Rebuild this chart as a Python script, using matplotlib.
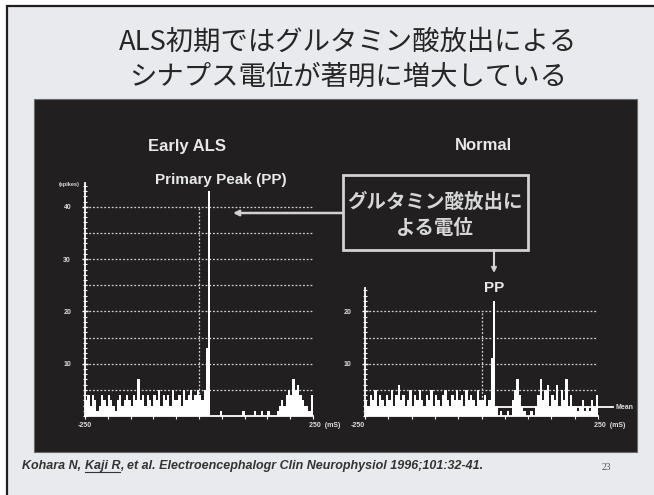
import matplotlib.pyplot as plt
import numpy as np
from matplotlib.patches import Rectangle
from matplotlib.ticker import MultipleLocator

plt.rcParams['font.family'] = ['Noto Sans CJK JP', 'DejaVu Sans']

# post-stimulus histograms, 5 ms bins from -250 to +250 ms
bin_starts = np.arange(-250, 250, 5)
als_counts = [
    3, 4, 2, 4, 3, 1, 2, 4, 3, 2,
    4, 3, 2, 1, 3, 4, 2, 3, 4, 3,
    2, 4, 3, 7, 3, 4, 2, 4, 3, 2,
    4, 3, 5, 2, 4, 3, 4, 2, 5, 3,
    3, 4, 2, 5, 3, 4, 5, 3, 4, 5,
    4, 3, 5, 13, 43, 0, 0, 0, 0, 1,
    0, 0, 0, 0, 0, 0, 0, 0, 0, 1,
    0, 0, 0, 0, 1, 0, 0, 1, 0, 0,
    1, 0, 0, 0, 1, 2, 3, 2, 4, 5,
    4, 7, 5, 6, 4, 3, 2, 2, 1, 4,
]
normal_counts = [
    3, 2, 4, 3, 5, 2, 4, 3, 2, 4,
    3, 5, 2, 4, 6, 3, 4, 2, 3, 5,
    2, 4, 3, 5, 3, 2, 4, 3, 5, 2,
    4, 3, 2, 4, 5, 3, 2, 4, 3, 5,
    3, 4, 2, 5, 3, 4, 3, 2, 5, 3,
    3, 4, 2, 3, 11, 22, 2, 0, 1, 0,
    0, 1, 0, 3, 5, 7, 4, 2, 1, 0,
    0, 1, 0, 2, 4, 7, 3, 5, 6, 2,
    4, 3, 6, 2, 5, 3, 7, 2, 4, 2,
    2, 1, 2, 3, 1, 2, 1, 3, 2, 4,
]
normal_mean = 1.7
als_grid = [5, 10, 15, 20, 25, 30, 35, 40]
normal_grid = [5, 10, 15, 20]

title_lines = ['ALS初期ではグルタミン酸放出による', 'シナプス電位が著明に増大している']
box_lines = ['グルタミン酸放出に', 'よる電位']

W, H = 654, 495
fig = plt.figure(figsize=(W / 100, H / 100), dpi=100)
fig.patch.set_facecolor('white')

# full-figure pixel canvas for the slide itself
bg = fig.add_axes([0, 0, 1, 1], zorder=0)
bg.set_xlim(0, W)
bg.set_ylim(H, 0)
bg.axis('off')

bg.add_patch(Rectangle((7, 6), 700, 600, facecolor='#e9eaee',
                       edgecolor='#1e1e1e', lw=1.6))
bg.add_patch(Rectangle((34, 99), 603, 353, facecolor='#221f20',
                       edgecolor='#6a6a6a', lw=0.8))

for i, line in enumerate(title_lines):
    bg.text(348, 42 + 35 * i, line, ha='center', va='center',
            fontsize=19.7, color='#262626')

txt = '#e8e8e8'
sans = ['Liberation Sans', 'DejaVu Sans']
bg.text(187, 146, 'Early ALS', ha='center', va='center', fontsize=12,
        fontweight='bold', color=txt, family=sans)
bg.text(483, 146, 'Normal', ha='center', va='center', fontsize=12,
        fontweight='bold', color=txt, family=sans)
bg.text(221, 180, 'Primary Peak (PP)', ha='center', va='center', fontsize=11,
        fontweight='bold', color=txt, family=sans)

PX_PER_SPIKE = 5.23
BASE_Y = 416


def histogram(x0, x1, counts, ytop, grid, major, left_label_align):
    ax = fig.add_axes([x0 / W, (H - BASE_Y) / H, (x1 - x0) / W,
                       ytop * PX_PER_SPIKE / H], zorder=1)
    ax.patch.set_alpha(0)
    ax.bar(bin_starts, counts, width=5, align='edge', color='white',
           linewidth=0, zorder=3)
    ax.set_xlim(-250, 250)
    ax.set_ylim(0, ytop)
    for g in grid:
        ax.axhline(g, color='#d0d0d0', lw=0.9, ls=(0, (1.5, 1.5)), zorder=1)
    ax.plot([0, 0], [0, grid[-1]], color='#d0d0d0', lw=0.9,
            ls=(0, (1.5, 1.5)), zorder=1)
    for side in ['top', 'right']:
        ax.spines[side].set_visible(False)
    for side in ['left', 'bottom']:
        ax.spines[side].set_color('white')
        ax.spines[side].set_linewidth(1.3)
    ax.yaxis.set_major_locator(MultipleLocator(major))
    ax.yaxis.set_minor_locator(MultipleLocator(1))
    ax.set_yticks([v for v in range(major, int(ytop), major)])
    ax.tick_params(axis='y', which='major', colors='white', labelsize=5,
                   length=4, width=1, direction='inout', pad=8,
                   labelcolor='#dddddd')
    ax.tick_params(axis='y', which='minor', colors='white', length=3,
                   width=0.8, direction='inout')
    ax.set_xticks(np.arange(-250, 251, 50))
    ax.set_xticklabels([])
    ax.tick_params(axis='x', colors='white', length=2, width=0.8,
                   direction='out')
    for lab in ax.get_yticklabels():
        lab.set_fontweight('bold')
        lab.set_family(sans)
    ax.text(-250, -1.2, '-250', ha=left_label_align, va='top', fontsize=5,
            color='#dddddd', fontweight='bold', family=sans)
    ax.text(242, -1.2, '250  (mS)', ha='left', va='top', fontsize=5,
            color='#dddddd', fontweight='bold', family=sans)
    return ax


ax_als = histogram(85, 313, als_counts, 44.5, als_grid, 10, 'center')
ax_als.text(-262, 44.3, '(spikes)', ha='right', va='center', fontsize=4,
            color='#dddddd', fontweight='bold', family=sans)

ax_norm = histogram(365, 598, normal_counts, 24.5, normal_grid, 10, 'right')
ax_norm.plot([-250, 282], [normal_mean, normal_mean], color='white', lw=1.3,
             clip_on=False, zorder=4)
ax_norm.text(288, normal_mean, 'Mean', ha='left', va='center', fontsize=5,
             color='#dddddd', fontweight='bold', family=sans)

# callout box with arrows to both primary peaks
bg.add_patch(Rectangle((343, 175), 185, 75, facecolor='none',
                       edgecolor='#d2d2d2', lw=2, zorder=5))
for i, line in enumerate(box_lines):
    bg.text(435, 202 + 26 * i, line, ha='center', va='center', fontsize=14,
            fontweight='bold', color='#d6d6d6', zorder=5)
bg.annotate('', xy=(233, 213), xytext=(343, 213),
            arrowprops=dict(arrowstyle='->', color='#d2d2d2', lw=1.8,
                            mutation_scale=8, shrinkA=0, shrinkB=0), zorder=5)
bg.annotate('', xy=(494, 273), xytext=(494, 250),
            arrowprops=dict(arrowstyle='->', color='#d2d2d2', lw=1.5,
                            mutation_scale=7, shrinkA=0, shrinkB=0), zorder=5)
bg.text(494, 288, 'PP', ha='center', va='center', fontsize=11,
        fontweight='bold', color=txt, family=sans)

# reference line, with the second author underlined
renderer = fig.canvas.get_renderer()
x = 22
cite = [('Kohara N, ', False), ('Kaji R', True),
        (', et al. Electroencephalogr Clin Neurophysiol 1996;101:32-41.', False)]
for piece, underline in cite:
    t = bg.text(x, 466, piece, ha='left', va='center', fontsize=9,
                fontweight='bold', fontstyle='italic', color='#333333',
                family=sans)
    w = t.get_window_extent(renderer).width
    if underline:
        bg.plot([x, x + w], [472, 472], color='#333333', lw=0.8)
    x += w

bg.text(606, 468, '23', ha='center', va='center', fontsize=7,
        color='#555555', family=['Liberation Serif', 'DejaVu Serif'])

fig.savefig('out.png', dpi=100)
